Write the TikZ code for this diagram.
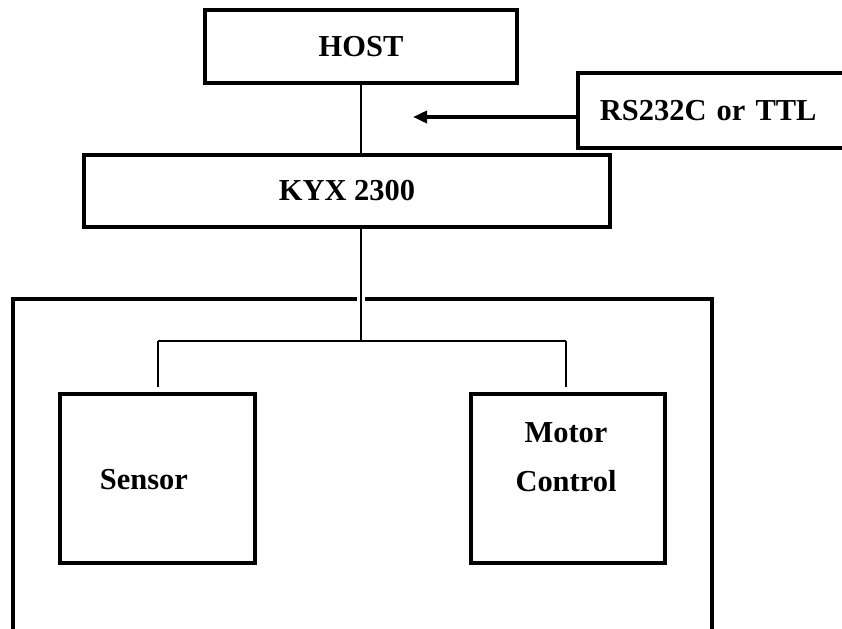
\documentclass[tikz,border=0pt]{standalone}
\usepackage{fontspec}
\setmainfont{Liberation Serif}
\usetikzlibrary{arrows.meta}
\begin{document}
\begin{tikzpicture}[x=0.03cm,y=-0.03cm]

        \clip (0,0) rectangle (842,629);

        \begin{scope}[every node/.style={draw,line width=3.2pt,font=\bfseries\fontsize{26}{42}\selectfont}]
          \node[minimum width=9.36cm,minimum height=2.19cm] (host) at (361,46.5) {HOST};
          \node[minimum width=15.78cm,minimum height=2.16cm] (kyx) at (347,191) {KYX 2300};
          \node[anchor=west,minimum height=2.25cm,inner xsep=0.66cm,text width=8.2cm,align=left] (rs) at (576,110.5) {RS232C or TTL};
          \node[minimum width=5.85cm,minimum height=5.07cm] (sensor) at (157.5,478.5) {};
          \node[minimum width=5.82cm,minimum height=5.07cm] (motor) at (568,478.5) {};
        \end{scope}

        \begin{scope}[every node/.style={font=\bfseries\fontsize{26}{42}\selectfont,align=center}]
          \node (sensortext) at (144,480) {Sensor};
          \node (motortext) at (566,457) {Motor\\Control};
        \end{scope}

        \coordinate (bus)  at (361,341);
        \coordinate (busl) at (158,341);
        \coordinate (busr) at (566,341);
        \coordinate (tip)  at (413,117);

        % outer frame, open at the bottom
        \draw[line width=3.4pt] (13,640) |- (712,299) -- (712,640);

        \draw[line width=2pt] (host.south) -- (host.south |- kyx.north);
        \draw[line width=2pt,preaction={draw=white,line width=7pt}] (host.south |- kyx.south) -- (bus);

        \begin{scope}[every path/.style={line width=2pt}]
          \draw (busl) -- (busr);
          \draw[shorten >=0.15cm] (busl) -- (busl |- sensor.north);
          \draw[shorten >=0.15cm] (busr) -- (busr |- motor.north);
        \end{scope}

        \draw[line width=3pt,-{Triangle[length=4.2mm,width=3.6mm]}] (rs.west |- tip) -- (tip);

      \end{tikzpicture}
\end{document}
